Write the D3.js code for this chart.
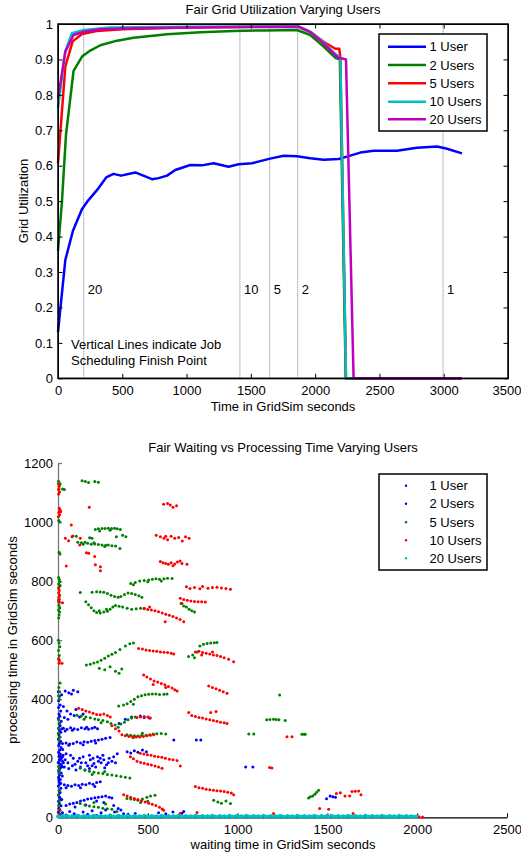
<!DOCTYPE html>
<html>
<head>
<meta charset="utf-8">
<script src="https://cdn.jsdelivr.net/npm/d3@7"></script>
<style>
body { margin: 0; background: #fff; }
text { font-family: "Liberation Sans", Arial, sans-serif; font-size: 13px; fill: #000; }
</style>
</head>
<body>
<svg id="chart" width="521" height="856"></svg>
<script>
// ---------- top chart data ----------
var utilLabels = ["1 User", "2 Users", "5 Users", "10 Users", "20 Users"];
var utilColors = ["#0000ff", "#008000", "#ff0000", "#00bfbf", "#bf00bf"];

var time1 = [0, 57, 117, 187, 237, 303, 375, 432, 490, 601, 731, 782, 848, 912, 1029, 1120, 1210, 1327, 1405, 1509, 1573, 1650, 1755, 1859, 1962, 2066, 2183, 2260, 2351, 2455, 2637, 2792, 2948, 3026, 3142];
var util1 = [0.13, 0.334, 0.417, 0.478, 0.503, 0.531, 0.567, 0.577, 0.572, 0.581, 0.562, 0.565, 0.572, 0.588, 0.602, 0.601, 0.607, 0.597, 0.604, 0.607, 0.613, 0.62, 0.628, 0.627, 0.621, 0.617, 0.619, 0.627, 0.637, 0.642, 0.642, 0.651, 0.654, 0.648, 0.635];

var time2 = [0, 31, 62, 121, 187, 251, 329, 459, 588, 848, 1107, 1366, 1600, 1859, 1962, 2066, 2160, 2192, 2238, 3140];
var util2 = [0.36, 0.5, 0.687, 0.868, 0.908, 0.925, 0.94, 0.953, 0.961, 0.971, 0.977, 0.98, 0.982, 0.983, 0.969, 0.936, 0.904, 0.9, 0, 0];

var time5 = [0, 57, 114, 187, 300, 500, 1000, 1500, 1870, 1962, 2066, 2157, 2188, 2196, 2240, 3140];
var util5 = [0.607, 0.88, 0.951, 0.972, 0.98, 0.985, 0.99, 0.992, 0.993, 0.978, 0.95, 0.93, 0.93, 0.905, 0, 0];

var time10 = [0, 57, 109, 200, 400, 1000, 1870, 1962, 2066, 2157, 2196, 2240, 3140];
var util10 = [0.763, 0.923, 0.974, 0.983, 0.99, 0.992, 0.993, 0.978, 0.948, 0.915, 0.905, 0, 0];

var time20 = [0, 57, 121, 200, 329, 588, 1000, 1870, 1962, 2066, 2175, 2240, 2299, 3137];
var util20 = [0.79, 0.922, 0.969, 0.978, 0.985, 0.988, 0.99, 0.992, 0.977, 0.945, 0.906, 0.9, 0, 0];

var finishTimes = [200, 1415, 1646, 1864, 2995];
var finishLabels = ["20", "10", "5", "2", "1"];

var utilXTicks = [0, 500, 1000, 1500, 2000, 2500, 3000, 3500];
var utilYTicks = [0, 0.1, 0.2, 0.3, 0.4, 0.5, 0.6, 0.7, 0.8, 0.9, 1];

// ---------- bottom chart data (waiting, processing) ----------
var waitLabels = ["1 User", "2 Users", "5 Users", "10 Users", "20 Users"];
var waitColors = ["#0000ff", "#0000ff", "#008000", "#ff0000", "#00bfbf"];

var jobsBlue = [
  [2,425],[8,410],[4,395],[12,380],[3,372],[15,360],[6,350],[10,342],[2,335],[18,325],[7,318],[12,310],[3,302],[9,295],[16,288],[5,280],[11,272],[2,265],[14,258],[8,250],[4,243],[17,236],[10,228],[3,220],[13,214],[6,207],[19,200],[9,193],[2,186],[15,180],[7,173],[11,166],[4,158],[18,150],[8,143],[3,136],[13,128],[6,120],[10,113],[2,106],[16,98],[7,91],[12,84],[4,76],[9,68],[14,61],[3,54],[8,46],[17,39],[5,31],[11,24],[2,17],[14,10],[7,5],[20,415],[22,300],[25,190],[24,140],[21,60],[26,230],[5,128],[12,197],[9,212],[15,205],[3,185],[20,175],[6,160],[23,170],[28,210],[30,185],
  [40,428],[60,422],[85,430],[110,425],[75,418],
  [30,375],[50,360],[70,350],[90,345],[35,338],[55,332],[120,340],[100,365],[140,350],
  [30,302],[50,298],[70,303],[90,300],[110,297],[130,303],[150,300],[170,298],[190,302],[205,305],[220,300],[80,295],[160,305],[40,292],
  [25,250],[45,252],[65,248],[85,250],[105,255],[125,252],[145,256],[165,254],[185,258],[205,260],[225,262],[245,264],[265,268],[290,270],[60,244],[140,246],[210,252],
  [25,205],[40,195],[55,185],[70,210],[85,200],[95,180],[110,190],[125,170],[140,205],[155,185],[165,175],[180,195],[195,200],[210,170],[225,190],[240,185],[255,195],[270,178],[285,200],[300,190],[35,170],[60,165],[80,175],[100,160],[120,200],[150,160],[175,165],[200,182],[220,205],[260,168],[280,185],[45,215],[130,185],[190,175],[235,200],[310,205],[320,185],[330,215],[250,210],[175,210],
  [385,222],[405,218],[425,225],[445,220],[470,228],[492,222],
  [458,343],[480,338],[510,336],[375,332],[340,318],[410,340],[645,262],[770,262],[795,262],
  [15,115],[35,110],[55,108],[75,105],[95,110],[115,108],[135,112],[155,110],[175,115],[195,112],[215,118],[235,120],[45,100],[125,100],[205,104],
  [45,40],[65,45],[85,48],[105,50],[125,55],[145,58],[165,62],[185,64],[205,66],[225,68],[245,70],[265,72],[285,68],[300,65],[95,35],[155,42],[215,55],[255,50],[310,40],[335,30],
  [25,15],[45,8],[65,20],[90,12],[115,5],[140,18],[165,10],[190,22],[215,6],[240,15],[265,25],[290,8],[315,18],[340,5],[365,12],[390,10],[350,25],[430,13],[560,15],[600,12],[640,18],[690,14],[700,20],
  [1045,170],[1085,170],[1495,63],[1515,72],[1530,70],[1545,68]
];

var jobsGreen = [
  [3,1138],[8,1125],[5,1112],[12,1130],[25,1112],[35,1110],[4,1005],[9,1000],[6,898],[11,892],[3,812],[7,805],[10,798],[4,790],[12,785],[6,780],[2,736],[8,728],[5,718],[10,710],[3,702],[9,695],[6,685],[4,675],[2,600],[6,590],[10,578],[3,565],[7,548],[4,535],[12,455],[5,440],[9,425],[3,412],[7,400],[4,330],[10,318],[6,300],[2,285],[8,272],[5,262],[3,172],[8,160],[5,150],[7,90],[3,75],[9,55],[4,40],[10,25],[6,10],
  [134,1140],[152,1137],[170,1134],[205,1137],[225,1135],
  [208,975],[225,977],[245,978],[262,978],[280,979],[298,978],[315,979],[330,977],[347,975],[232,970],[290,972],
  [325,950],[360,955],[378,950],[176,947],[189,945],[78,950],[102,952],
  [110,932],[130,930],[150,932],[165,928],[185,925],[205,926],[225,924],[245,922],[265,921],[280,922],[300,920],[320,919],[345,910],[140,925],[200,930],[260,917],
  [405,792],[430,795],[455,800],[480,802],[505,804],[525,806],[545,808],[565,806],[590,808],[610,810],[635,809],[420,788],[500,798],[575,800],
  [190,762],[215,764],[235,763],[255,762],[275,758],[295,752],[315,748],[335,745],[350,748],[370,755],[390,760],[410,758],[430,755],[450,750],[467,745],[124,761],
  [155,730],[170,720],[185,710],[200,700],[215,694],[235,692],[255,695],[275,698],[290,705],[305,712],[320,717],[340,715],[360,712],[385,708],[410,705],[435,706],[460,708],[480,706],[230,700],[270,705],
  [685,724],[700,716],[715,712],[730,705],[745,700],[760,695],
  [158,516],[180,518],[200,523],[220,526],[240,532],[260,539],[280,546],[300,552],[320,558],[345,568],[375,580],[400,588],[420,590],[230,505],[260,500],[290,510],[320,495],[340,488],[355,502],
  [727,545],[750,550],[775,560],[790,580],[810,586],[830,589],[850,590],[870,591],[885,592],[760,540],
  [338,377],[365,380],[385,385],[405,392],[425,400],[445,408],[465,412],[485,415],[505,417],[525,418],[545,418],[565,416],[590,417],[607,418],[420,383],
  [106,346],[130,343],[155,340],[180,337],[205,333],[225,330],[250,328],[275,324],[295,318],[318,313],[335,305],[350,316],[370,322],[390,330],[410,336],[430,340],[145,332],[240,320],
  [384,280],[405,278],[425,276],[445,275],[465,277],[490,278],[510,280],[530,282],[550,283],[575,284],[600,282],[420,270],[470,285],
  [124,166],[150,160],[175,156],[200,153],[225,150],[250,148],[275,145],[300,143],[325,141],[350,138],[375,136],[400,133],[190,145],[260,155],
  [124,47],[150,42],[175,38],[200,36],[225,34],[250,31],[275,29],[300,27],[328,20],[200,50],[265,45],
  [384,64],[405,62],[425,60],[445,58],[470,62],[495,68],[515,72],[540,75],[460,50],[500,54],
  [867,58],[890,52],[910,48],[935,55],[960,47],
  [1062,282],[1090,282],[1162,330],[1180,331],[1200,332],[1215,331],[1230,330],[1265,328],[1234,414],[1358,281],[1370,281],[1377,281],[1395,65],[1405,70],[1418,72],[1430,78],[1440,85],[1451,92]
];

var jobsRed = [
  [2,1130],[6,1120],[4,1110],[9,1102],[3,1095],[7,1047],[12,1040],[5,1032],[15,1035],[9,1025],[2,1018],[3,776],[7,768],[4,760],[9,752],[5,745],[8,738],[3,730],[25,727],[4,538],[8,530],[6,522],[22,522],[5,25],[10,8],
  [74,990],[41,945],[59,937],[83,953],[124,945],[121,922],[46,851],[174,1050],[158,896],[171,894],[204,883],[208,855],[236,849],[236,835],
  [547,955],[570,950],[590,945],[610,940],[630,952],[650,945],[672,948],[692,936],[710,950],[730,945],[600,952],
  [588,1060],[610,1063],[625,1058],[660,1055],[640,1050],
  [570,866],[585,862],[600,860],[615,857],[630,862],[650,858],[665,865],[680,868],[690,860],[640,852],[718,857],
  [480,708],[500,704],[520,702],[540,700],[560,696],[580,692],[600,688],[620,684],[640,680],[660,675],[680,670],[700,662],[597,662],[510,712],
  [681,742],[700,738],[720,735],[740,733],[760,731],[780,730],[800,730],[820,729],[690,725],
  [715,781],[735,775],[760,778],[790,774],[805,782],[835,776],[860,778],[885,779],[910,777],[935,775],[960,772],
  [449,572],[470,570],[490,567],[510,565],[530,563],[550,562],[570,560],[590,559],[610,558],[630,556],[644,553],
  [765,560],[785,562],[805,558],[825,556],[845,553],[865,550],[885,548],[905,545],[925,540],[950,535],[978,527],[800,550],[860,560],
  [477,482],[495,475],[515,468],[535,462],[555,458],[575,453],[595,449],[615,443],[635,438],[650,432],[663,428],[530,450],[600,440],
  [839,445],[860,440],[880,435],[900,430],[920,425],[941,420],
  [115,369],[135,365],[155,360],[175,357],[195,352],[215,348],[235,347],[255,350],[275,345],[291,340],[300,310],[320,300],[340,292],
  [728,355],[745,345],[765,341],[785,338],[805,336],[825,333],[845,330],[865,328],[885,325],[905,322],[925,320],[941,318],[850,355],[880,358],
  [356,280],[375,276],[395,274],[415,272],[435,272],[455,272],[475,274],[495,276],[515,278],[533,280],
  [440,338],[460,340],[480,341],[500,340],[514,336],
  [458,217],[478,214],[498,212],[518,210],[538,207],[558,205],[578,203],[598,200],[620,197],[640,195],[663,192],
  [403,205],[420,198],[440,190],[460,186],[480,183],[500,180],[520,177],[540,174],[560,170],[579,166],[681,174],
  [765,104],[785,100],[805,98],[825,95],[845,93],[865,92],[885,90],[905,89],[925,87],[945,85],[965,82],[978,76],
  [366,76],[385,72],[405,68],[425,64],[445,60],[465,56],[485,52],[505,48],[525,44],[545,40],[565,34],[580,28],[588,24],
  [774,16],[681,14],[1178,169],[1191,167],[1275,273],[1303,273],[1200,13],[1457,30],[1507,27],[1550,81],[1572,83],[1598,72],[1624,72],[1637,87],[1655,88],[1674,89],[1687,76],[1643,13],[1960,3],[2010,2],[2030,1]
];

var jobsCyan = [
  [0,3],[12,1],[26,5],[38,2],[51,6],[63,1],[77,4],[90,2],[104,6],[117,3],[131,1],[144,5],[158,2],[170,4],[185,1],[198,6],[211,3],[225,2],[238,5],[252,1],[265,4],[279,2],[292,6],[306,3],[319,1],[333,5],[346,2],[360,4],[373,1],[387,6],[400,3],[414,2],[427,5],[441,1],[454,4],[468,2],[481,6],[495,3],[508,1],[522,5],[535,2],[549,4],[562,1],[576,6],[589,3],[603,2],[616,5],[630,1],[643,4],[657,2],[670,6],[684,3],[697,1],[711,5],[724,2],[738,4],[751,1],[765,6],[778,3],[792,2],[805,5],[819,1],[832,4],[846,2],[859,6],[873,3],[886,1],[900,5],[913,2],[927,4],[940,1],[954,6],[967,3],[981,2],[994,5],
  [1008,1],[1021,4],[1035,2],[1048,6],[1062,3],[1075,1],[1089,5],[1102,2],[1116,4],[1129,1],[1143,6],[1156,3],[1170,2],[1183,5],[1197,1],[1210,4],[1224,2],[1237,6],[1251,3],[1264,1],[1278,5],[1291,2],[1305,4],[1318,1],[1332,6],[1345,3],[1359,2],[1372,5],[1386,1],[1399,4],[1413,2],[1426,6],[1440,3],[1453,1],[1467,5],[1480,2],[1494,4],[1507,1],[1521,6],[1534,3],[1548,2],[1561,5],[1575,1],[1588,4],[1602,2],[1615,6],[1629,3],[1642,1],[1656,5],[1669,2],[1683,4],[1696,1],[1710,6],[1723,3],[1737,2],[1750,5],[1764,1],[1777,4],[1791,2],[1804,6],[1818,3],[1831,1],[1845,5],[1858,2],[1872,4],[1885,1],[1899,6],[1912,3],[1926,2],[1939,5],[1953,1],[1966,4],[1980,2],[1995,3]
];

var waitXTicks = [0, 500, 1000, 1500, 2000, 2500];
var waitYTicks = [0, 200, 400, 600, 800, 1000, 1200];

var svg = d3.select("#chart");

// ================= top chart =================
var x1 = d3.scaleLinear().domain([0, 3500]).range([58, 508]);
var y1 = d3.scaleLinear().domain([0, 1]).range([378.3, 24]);

svg.append("text")
    .attr("x", 283).attr("y", 14)
    .attr("text-anchor", "middle")
    .text("Fair Grid Utilization Varying Users");

// finish point markers
svg.selectAll(".finish")
    .data(finishTimes)
  .enter().append("line")
    .attr("x1", function(d) { return x1(d); })
    .attr("x2", function(d) { return x1(d); })
    .attr("y1", y1(0))
    .attr("y2", y1(1))
    .style("stroke", "#7a7a8c")
    .style("stroke-width", 1)
    .style("stroke-dasharray", "1,1");

svg.selectAll(".finishLabel")
    .data(finishTimes)
  .enter().append("text")
    .attr("x", function(d) { return x1(d) + 4; })
    .attr("y", y1(0.25) + 4.5)
    .text(function(d, i) { return finishLabels[i]; });

svg.append("text").attr("x", 71).attr("y", 348.5).text("Vertical Lines indicate Job");
svg.append("text").attr("x", 71).attr("y", 365).text("Scheduling Finish Point");

var utilSeries = [[time1, util1], [time2, util2], [time5, util5], [time10, util10], [time20, util20]];
var line = d3.line()
    .x(function(d) { return x1(d[0]); })
    .y(function(d) { return y1(d[1]); });

utilSeries.forEach(function(s, i) {
  svg.append("path")
      .datum(d3.zip(s[0], s[1]))
      .attr("d", line)
      .style("fill", "none")
      .style("stroke", utilColors[i])
      .style("stroke-width", 2.5)
      .style("stroke-linejoin", "round");
});

// axes (ticks inside, box)
var fmt = d3.format("~g");
var xAxis1 = svg.append("g")
    .attr("transform", "translate(0," + y1(0) + ")")
    .call(d3.axisBottom(x1).tickValues(utilXTicks).tickSizeInner(-4.5).tickSizeOuter(0).tickPadding(7).tickFormat(fmt));
// last label sits at the page edge, keep it inside
xAxis1.selectAll(".tick text").filter(function(d) { return d === 3500; })
    .attr("text-anchor", "end").attr("x", 13);
svg.append("g")
    .attr("transform", "translate(0," + y1(1) + ")")
    .call(d3.axisTop(x1).tickValues(utilXTicks).tickSizeInner(-4.5).tickSizeOuter(0).tickFormat(""));
svg.append("g")
    .attr("transform", "translate(" + x1(0) + ",0)")
    .call(d3.axisLeft(y1).tickValues(utilYTicks).tickSizeInner(-4.5).tickSizeOuter(0).tickPadding(5).tickFormat(fmt));
svg.append("g")
    .attr("transform", "translate(" + x1(3500) + ",0)")
    .call(d3.axisRight(y1).tickValues(utilYTicks).tickSizeInner(-4.5).tickSizeOuter(0).tickFormat(""));

svg.append("rect")
    .attr("x", x1(0)).attr("y", y1(1))
    .attr("width", x1(3500) - x1(0))
    .attr("height", y1(0) - y1(1))
    .style("fill", "none")
    .style("stroke", "#000")
    .style("stroke-width", 1.5);

svg.append("text")
    .attr("x", 283).attr("y", 411)
    .attr("text-anchor", "middle")
    .text("Time in GridSim seconds");
svg.append("text")
    .attr("transform", "translate(28,201) rotate(-90)")
    .attr("text-anchor", "middle")
    .text("Grid Utilization");

// legend
var leg1 = svg.append("g");
leg1.append("rect")
    .attr("x", 379).attr("y", 34).attr("width", 108).attr("height", 97)
    .style("fill", "#fff").style("stroke", "#000").style("stroke-width", 1.5);
var legRows1 = [46.7, 65, 83.3, 101.7, 119.3];
utilLabels.forEach(function(lab, i) {
  leg1.append("line")
      .attr("x1", 388).attr("x2", 426)
      .attr("y1", legRows1[i]).attr("y2", legRows1[i])
      .style("stroke", utilColors[i]).style("stroke-width", 2.5);
  leg1.append("text")
      .attr("x", 429.5).attr("y", legRows1[i] + 4.6)
      .text(lab);
});

// ================= bottom chart =================
var x2 = d3.scaleLinear().domain([0, 2500]).range([58, 507]);
var y2 = d3.scaleLinear().domain([0, 1200]).range([817.3, 463]);

svg.append("text")
    .attr("x", 283).attr("y", 452)
    .attr("text-anchor", "middle")
    .text("Fair Waiting vs Processing Time Varying Users");

var scatterSeries = [[jobsBlue, "#0000ff", 1.5], [jobsGreen, "#008000", 1.5], [jobsRed, "#ff0000", 1.5], [jobsCyan, "#00bfbf", 1.9]];

// axes first so the dots sit on top like the reference
var xAxis2 = svg.append("g")
    .attr("transform", "translate(0," + y2(0) + ")")
    .call(d3.axisBottom(x2).tickValues(waitXTicks).tickSizeInner(-4).tickSizeOuter(0).tickPadding(7.5).tickFormat(fmt));
var yAxis2 = svg.append("g")
    .attr("transform", "translate(" + x2(0) + ",0)")
    .call(d3.axisLeft(y2).tickValues(waitYTicks).tickSizeInner(-4).tickSizeOuter(0).tickPadding(5).tickFormat(fmt));
xAxis2.select(".domain").style("stroke-width", 1.3);
yAxis2.selectAll(".domain, line").style("stroke", "#777").style("stroke-width", 1.3);

scatterSeries.forEach(function(s) {
  svg.append("g").selectAll("circle")
      .data(s[0])
    .enter().append("circle")
      .attr("cx", function(d) { return x2(d[0]); })
      .attr("cy", function(d) { return y2(d[1]); })
      .attr("r", s[2])
      .style("fill", s[1]);
});

svg.append("text")
    .attr("x", 283).attr("y", 849)
    .attr("text-anchor", "middle")
    .text("waiting time in GridSim seconds");
svg.append("text")
    .attr("transform", "translate(17,640) rotate(-90)")
    .attr("text-anchor", "middle")
    .text("processing time in GridSim seconds");

var leg2 = svg.append("g");
leg2.append("rect")
    .attr("x", 379).attr("y", 474).attr("width", 108).attr("height", 96)
    .style("fill", "#fff").style("stroke", "#000").style("stroke-width", 1.5);
var legRows2 = [485.7, 503.7, 522.3, 540.3, 558.3];
waitLabels.forEach(function(lab, i) {
  leg2.append("circle")
      .attr("cx", 406).attr("cy", legRows2[i]).attr("r", 1.2)
      .style("fill", waitColors[i]);
  leg2.append("text")
      .attr("x", 429.5).attr("y", legRows2[i] + 4.6)
      .text(lab);
});

svg.selectAll(".tick text").style("font-size", "13px");
svg.selectAll(".domain").style("fill", "none");
</script>
</body>
</html>
